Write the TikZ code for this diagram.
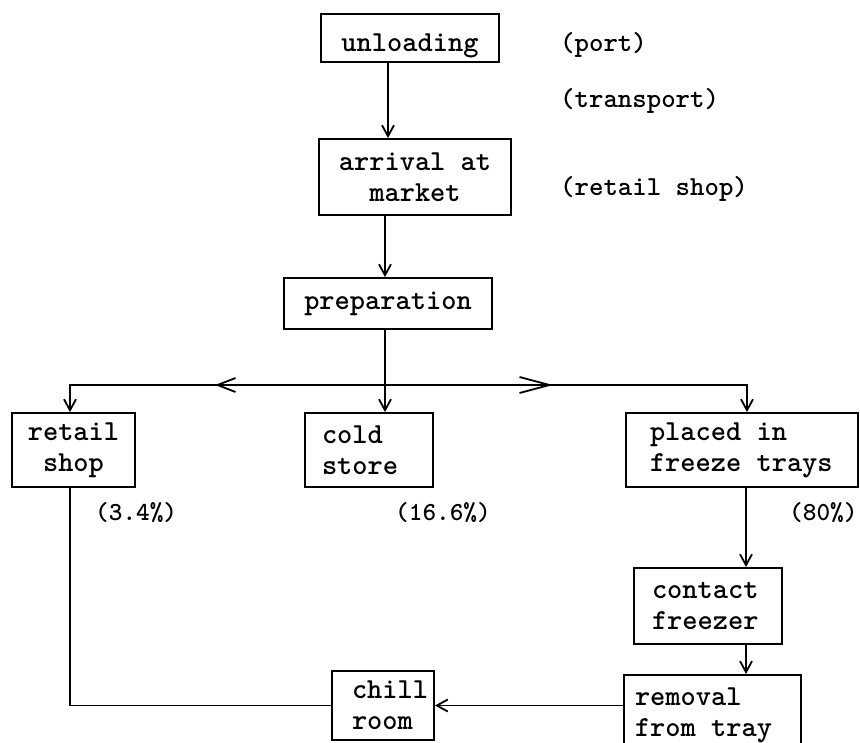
\documentclass[tikz,border=0pt]{standalone}
\usepackage{fontspec}
\newfontfamily\tyfont{lmmonolt10-bold}[Extension=.otf]
\usetikzlibrary{arrows.meta,decorations.markings}
\newcommand\boxfont{\tyfont\fontsize{29}{31}\selectfont}
\newcommand\sidefont{\tyfont\fontsize{27.5}{30}\selectfont}
\newcommand\pctfont{\tyfont\fontsize{26}{28}\selectfont}
\begin{document}
\begin{tikzpicture}[x=1pt,y=-1pt,
  ln/.style={line width=1.8pt},
  box/.style={draw, line width=1.8pt, font=\boxfont, inner sep=0pt,
    execute at begin node={\spaceskip=0.525em\relax\xspaceskip=0.525em\relax}},
  arr/.style={ln, -{Straight Barb[length=11pt,width=12pt]}},
  sidelbl/.style={font=\sidefont, inner sep=0pt, anchor=base west},
  pctlbl/.style={font=\pctfont, inner sep=0pt, anchor=base west},
  midleft/.style={decoration={markings, mark=at position #1 with {\arrow{Straight Barb[length=18pt,width=14pt]}}}, postaction={decorate}},
  midright/.style={decoration={markings, mark=at position #1 with {\arrow{Straight Barb[length=30pt,width=16pt]}}}, postaction={decorate}}
]
\useasboundingbox (0,0) rectangle (860,743);
\clip (0,0) rectangle (860,743);

% boxes
\node[box, anchor=base, minimum width=178pt, text height=38pt, text depth=10pt] (unl) at (410,52) {unloading};
\node[box, minimum width=192pt, minimum height=76pt, align=center] (arv) at (415,177) {arrival at\\market};
\node[box, minimum width=208pt, minimum height=51pt] (prep) at (388,303.5) {preparation};
\node[box, minimum width=123pt, minimum height=74pt, align=center] (ret) at (73.5,450) {retail\\shop};
\node[box, minimum width=128pt, minimum height=74pt, text width=94pt, align=left] (cold) at (369,450) {cold\\store};
\node[box, minimum width=232pt, minimum height=74pt, text width=184pt, align=left] (plc) at (742,450) {placed in\\freeze trays};
\node[box, minimum width=148pt, minimum height=76pt, text width=112pt, align=left] (cf) at (708,606) {contact\\freezer};
\node[box, anchor=north, minimum width=177pt, text width=155pt, align=left, inner ysep=13pt, text depth=60pt] (rem) at (712.5,674) {removal\\from tray};
\node[box, minimum width=102pt, minimum height=69pt, text width=62pt, align=left] (chill) at (383,705.5) {chill\\room};

% side labels
\node[sidelbl] (port) at (560,52) {(port)};
\node[sidelbl] (trans) at (560,108) {(transport)};
\node[sidelbl] (rshop) at (560,196) {(retail shop)};

% percentages
\node[pctlbl] (p1) at (95,520) {(3.4\%)};
\node[pctlbl] (p2) at (395,520) {(16.6\%)};
\node[pctlbl] (p3) at (789,520) {(80\%)};

% helper coordinates
\coordinate (xa) at (388,0);
\coordinate (fork) at (385,385);
\coordinate (xr) at (70,0);
\coordinate (xp) at (747,0);
\coordinate (xf) at (746,0);

% connectors
\draw[arr] (unl.south -| xa) -- (arv.north -| xa);
\draw[arr] (arv.south -| fork) -- (prep.north -| fork);
\draw[arr] (prep.south -| fork) -- (cold.north -| fork);
\draw[arr, midleft=170pt] (fork) -| (ret.north -| xr);
\draw[arr, midright=168pt] (fork) -| (plc.north -| xp);
\draw[arr] (plc.south -| xf) -- (cf.north -| xf);
\draw[arr] (cf.south -| xf) -- (rem.north -| xf);
\draw[arr] (rem.west |- chill.east) -- (chill.east);
\draw[ln] (ret.south -| xr) |- (chill.west);
\end{tikzpicture}
\end{document}
